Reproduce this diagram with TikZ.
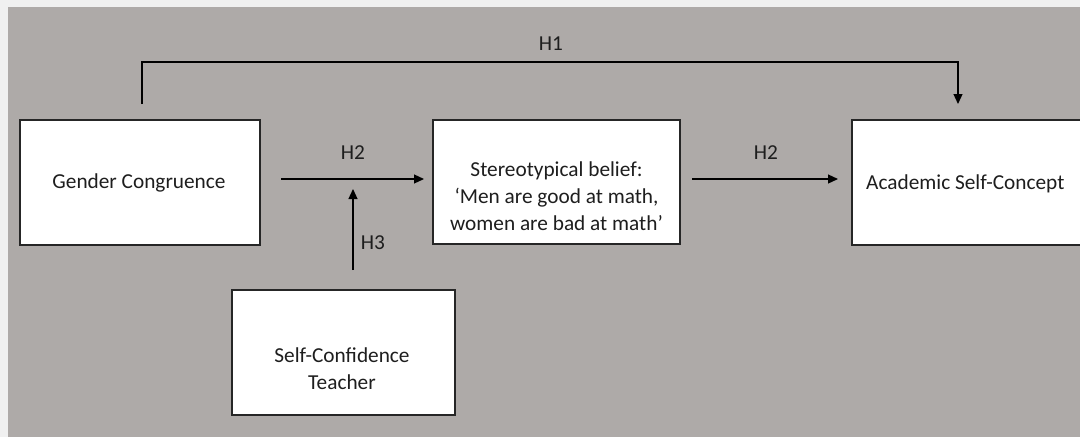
\documentclass[tikz,border=0pt]{standalone}
\usepackage{fontspec}
\setmainfont{Carlito}
\usetikzlibrary{arrows.meta}
\definecolor{bggray}{RGB}{174,170,168}
\definecolor{edge}{RGB}{240,240,240}
\definecolor{txt}{RGB}{30,30,30}
\begin{document}
\begin{tikzpicture}[x=1pt,y=-1pt,
  box/.style={draw=black!85,line width=1.4pt,fill=white,inner sep=0pt},
  lbl/.style={text=txt,font=\fontsize{21.3}{27}\selectfont,align=center,inner sep=0pt},
  conn/.style={draw=black,line width=1.2pt,-{Triangle[length=10pt,width=9pt]}}]
\useasboundingbox (0,0) rectangle (1080,437);
\fill[edge] (0,0) rectangle (1080,437);
\fill[bggray] (8,7) rectangle (1080,437);
\begin{scope}
\clip (0,0) rectangle (1080,437);
% boxes
\node[box,minimum width=240pt,minimum height=125pt] (gc) at (140,182.5) {};
\node[lbl] (gct) at (139,183) {Gender Congruence};
\node[box,minimum width=247pt,minimum height=124pt] (sb) at (556.5,182) {};
\node[lbl] (sbt) at (556.5,196) {Stereotypical belief:\\‘Men are good at math,\\women are bad at math’};
\node[box,minimum width=240pt,minimum height=125pt] (asc) at (972,182.5) {};
\node[lbl,anchor=west] (asct) at (866,184) {Academic Self-Concept};
\node[box,minimum width=223pt,minimum height=125pt] (sc) at (343.5,352.5) {};
\node[lbl] (sct) at (342,368.5) {Self-Confidence\\Teacher};
\end{scope}
% coordinates
\coordinate (h1s) at (142,104);
\coordinate (h1e) at (958,104);
\coordinate (h2as) at (281,179);
\coordinate (h2ae) at (424,179);
\coordinate (h3s) at (353,270);
\coordinate (h3e) at (353,189);
\coordinate (h2bs) at (692,179);
\coordinate (h2be) at (838,179);
% connectors
\draw[conn] (h1s) -- (142,62) -- (958,62) -- (h1e);
\draw[conn] (h2as) -- (h2ae);
\draw[conn] (h3s) -- (h3e);
\draw[conn] (h2bs) -- (h2be);
% labels
\node[lbl] (lh1) at (551,44) {H1};
\node[lbl] (lh2a) at (353,153) {H2};
\node[lbl] (lh3) at (373,243) {H3};
\node[lbl] (lh2b) at (766,153) {H2};
\end{tikzpicture}
\end{document}
